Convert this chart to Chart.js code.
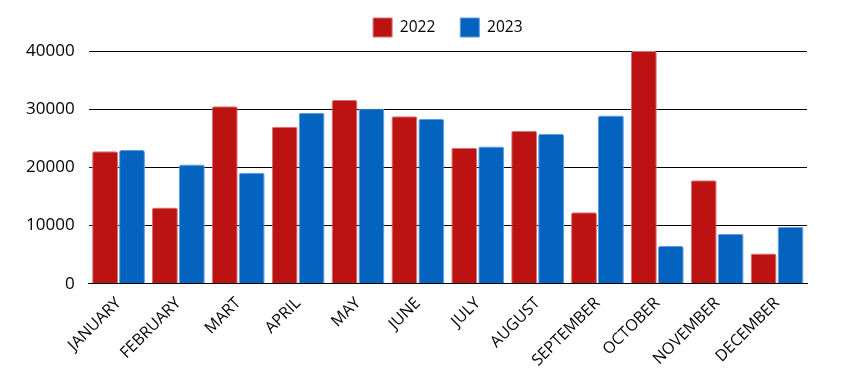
<!DOCTYPE html>
<html>
<head>
<meta charset="utf-8">
<script src="https://cdn.jsdelivr.net/npm/chart.js@4"></script>
<style>
  html, body { margin: 0; padding: 0; background: #fff; }
  #wrap { width: 862px; height: 383px; }
</style>
</head>
<body>
<div id="wrap"><canvas id="chart" width="862" height="383"></canvas></div>
<script>
const months = ["JANUARY", "FEBRUARY", "MART", "APRIL", "MAY", "JUNE", "JULY", "AUGUST", "SEPTEMBER", "OCTOBER", "NOVEMBER", "DECEMBER"];
const sales2022 = [22800, 13100, 30500, 27000, 31600, 28800, 23400, 26300, 12300, 40000, 17800, 5200];
const sales2023 = [23000, 20500, 19100, 29400, 30100, 28300, 23600, 25800, 28900, 6500, 8600, 9800];
const yTicks = [0, 10000, 20000, 30000, 40000];

const font = "'Open Sans', 'Noto Sans', sans-serif";

// a little extra room under the legend
const legendGap = {
  id: "legendGap",
  beforeInit(chart) {
    const fit = chart.legend.fit;
    chart.legend.fit = function () {
      fit.call(this);
      this.height += 4;
    };
  }
};

new Chart(document.getElementById("chart"), {
  type: "bar",
  data: {
    labels: months,
    datasets: [{
      label: "2022",
      data: sales2022,
      backgroundColor: "#bd1212",
      borderColor: "#d77070",
      borderWidth: 1,
      borderRadius: 2,
      borderSkipped: "bottom"
    }, {
      label: "2023",
      data: sales2023,
      backgroundColor: "#0563c0",
      borderColor: "#5b9be0",
      borderWidth: 1,
      borderRadius: 2,
      borderSkipped: "bottom"
    }]
  },
  plugins: [legendGap],
  options: {
    responsive: false,
    animation: false,
    categoryPercentage: 0.9,
    barPercentage: 0.96,
    layout: { padding: { top: -7, left: 12, right: 55, bottom: 11 } },
    plugins: {
      legend: {
        position: "top",
        fullSize: false,
        labels: {
          boxWidth: 19,
          boxHeight: 19,
          padding: 25,
          color: "#000",
          font: { family: font, size: 15.5 }
        }
      },
      tooltip: { enabled: false }
    },
    scales: {
      x: {
        grid: { display: false },
        border: { display: true, color: "#000", width: 1 },
        ticks: {
          color: "#000",
          font: { family: font, size: 16 },
          maxRotation: 45,
          minRotation: 45,
          autoSkip: false,
          padding: 2
        }
      },
      y: {
        min: 0,
        max: 40000,
        afterBuildTicks: (axis) => { axis.ticks = yTicks.map(v => ({ value: v })); },
        grid: { color: "#000", lineWidth: 1, drawTicks: false },
        border: { display: false },
        ticks: {
          color: "#000",
          padding: 14,
          font: { family: font, size: 17 },
          callback: (v) => String(v)
        }
      }
    }
  }
});
</script>
</body>
</html>
